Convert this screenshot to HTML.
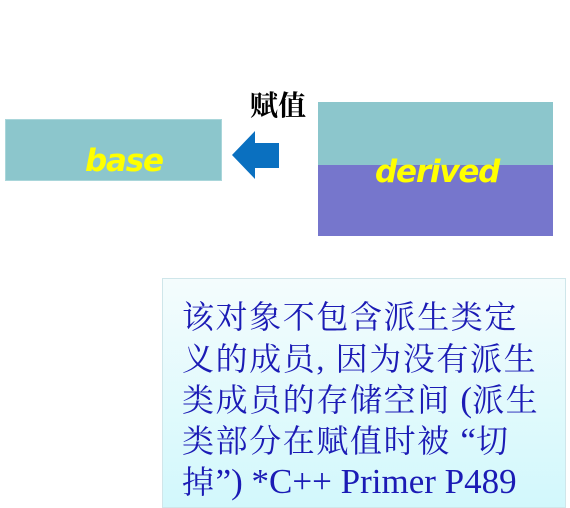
<!DOCTYPE html>
<html><head><meta charset="utf-8"><style>
body{margin:0;width:570px;height:497px;background:#fff;position:relative;overflow:hidden;font-family:"Liberation Sans",sans-serif}
.abs{position:absolute}
.lbl{color:#ffff00;font-weight:bold;font-style:italic;font-size:31px;font-family:"DejaVu Sans","Liberation Sans",sans-serif;letter-spacing:-1.2px}
.ln{position:absolute;left:182px;font-family:"Liberation Serif","Noto Serif CJK SC",serif;font-size:32px;color:#1b1bb5;letter-spacing:1.6px;white-space:nowrap;line-height:36px}
.ln span{font-size:35px;letter-spacing:0}
</style></head><body>
<div class="abs" style="left:5px;top:119px;width:217px;height:62px;background:#8cc6cc;border:1px solid #a9d6da;box-sizing:border-box"></div>
<div class="abs lbl" style="left:85px;top:143px">base</div>
<svg class="abs" style="left:230px;top:128px" width="52" height="56"><polygon points="2,27 25,3 25,15 49,15 49,40 25,40 25,51" fill="#0a70c0"/></svg>
<div class="abs" style="left:250px;top:84px;font-family:'Noto Serif CJK SC',serif;font-weight:bold;font-size:28px;color:#000">赋值</div>
<div class="abs" style="left:318px;top:102px;width:235px;height:63px;background:#8cc6cc"></div>
<div class="abs" style="left:318px;top:165px;width:235px;height:71px;background:#7676cc"></div>
<div class="abs lbl" style="left:375px;top:154px">derived</div>
<div class="abs" style="left:162px;top:278px;width:404px;height:230px;border:1px solid #cfe6ea;background:linear-gradient(to bottom,#f4fcfd,#d2f8fc);box-sizing:border-box"></div>
<div class="ln" style="top:299px">该对象不包含派生类定</div>
<div class="ln" style="top:341px">义的成员, 因为没有派生</div>
<div class="ln" style="top:382px">类成员的存储空间 <span>(</span>派生</div>
<div class="ln" style="top:423px">类部分在赋值时被 <span>“</span>切</div>
<div class="ln" style="top:464px">掉<span>”) *C++ Primer P489</span></div>
</body></html>
